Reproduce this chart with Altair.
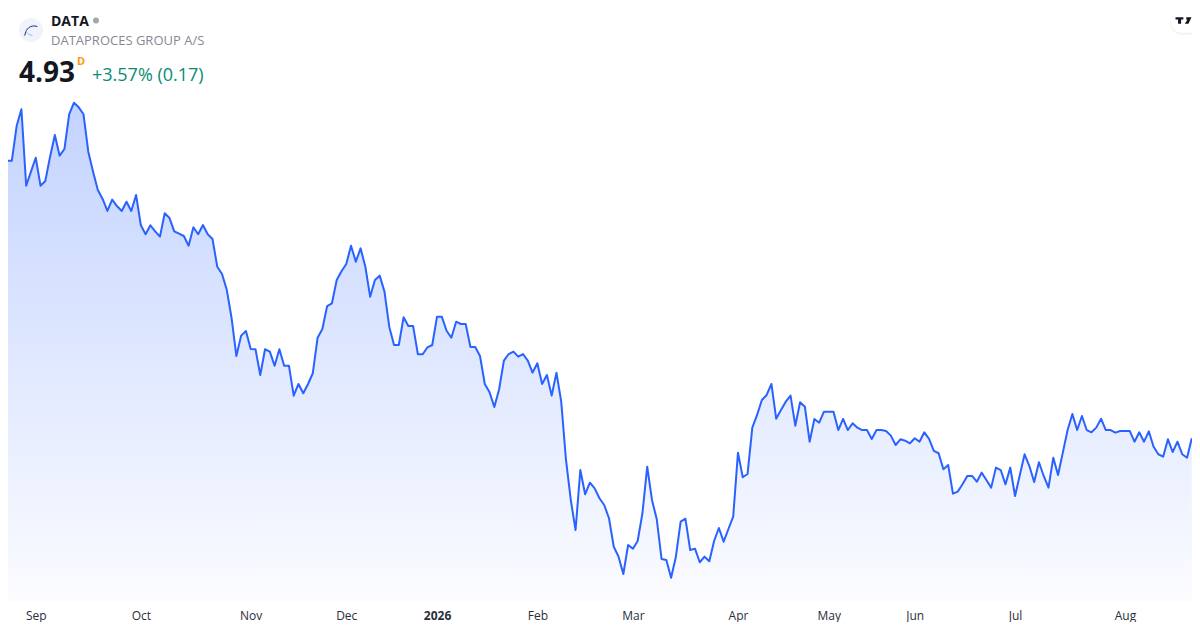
import json
import altair as alt
import pandas as pd

prices = [
6.884,7.359,7.359,7.662,7.809,7.140,7.263,7.385,7.140,7.181,
7.394,7.584,7.403,7.461,7.765,7.866,7.826,7.765,7.438,7.263,
7.102,7.024,6.919,7.018,6.962,6.919,7.000,6.919,7.059,6.794,
6.715,6.794,6.741,6.694,6.899,6.857,6.741,6.720,6.700,6.615,
6.776,6.715,6.796,6.715,6.674,6.431,6.367,6.227,5.980,5.650,
5.828,5.869,5.711,5.709,5.484,5.709,5.688,5.565,5.709,5.565,
5.565,5.303,5.405,5.324,5.405,5.499,5.810,5.886,6.087,6.111,
6.315,6.391,6.455,6.615,6.475,6.592,6.431,6.169,6.315,6.353,
6.213,5.906,5.746,5.746,5.989,5.912,5.912,5.665,5.665,5.726,
5.746,5.994,5.994,5.871,5.810,5.950,5.930,5.930,5.729,5.729,
5.650,5.405,5.332,5.204,5.359,5.609,5.667,5.688,5.644,5.667,
5.609,5.504,5.586,5.405,5.484,5.303,5.504,5.250,4.740,4.390,
4.127,4.652,4.440,4.541,4.492,4.405,4.346,4.230,3.981,3.894,
3.742,3.996,3.964,4.031,4.274,4.681,4.390,4.221,3.874,3.865,
3.710,3.894,4.200,4.226,3.952,3.964,3.845,3.894,3.854,4.031,
4.145,4.025,4.136,4.244,4.804,4.589,4.617,5.023,5.134,5.265,
5.309,5.405,5.101,5.177,5.250,5.303,5.040,5.245,5.206,4.900,
5.099,5.066,5.163,5.163,5.163,5.002,5.099,5.002,5.061,5.023,
5.002,5.002,4.924,5.002,5.002,4.994,4.953,4.871,4.921,4.909,
4.886,4.930,4.900,4.982,4.924,4.819,4.799,4.659,4.696,4.445,
4.463,4.527,4.600,4.600,4.550,4.629,4.565,4.498,4.673,4.652,
4.527,4.673,4.425,4.609,4.790,4.687,4.547,4.720,4.600,4.498,
4.760,4.609,4.804,5.002,5.142,5.002,5.125,5.002,4.982,5.023,
5.101,5.002,5.002,4.979,4.994,4.994,4.994,4.900,4.982,4.900,
4.991,4.856,4.790,4.769,4.921,4.810,4.900,4.790,4.760,4.930,
]
tick_positions = [7, 29, 52, 72, 91, 112, 132, 154, 173, 191, 212, 235]
tick_labels = ["Sep", "Oct", "Nov", "Dec", "2026", "Feb", "Mar", "Apr", "May", "Jun", "Jul", "Aug"]
symbol = "DATA"
company = "DATAPROCES GROUP A/S"
last_price = "4.93"
interval = "D"
change = "+3.57% (0.17)"

FONT = "Open Sans"
BLUE = "#2962FF"
LOW, HIGH = 3.506, 8.695

df = pd.DataFrame({"day": list(range(len(prices))), "price": prices})
label_map = json.dumps({str(p): l for p, l in zip(tick_positions, tick_labels)})

x = alt.X(
    "day:Q",
    scale=alt.Scale(domain=[1.193, 249.04], nice=False, zero=False),
    axis=alt.Axis(
        values=tick_positions,
        labelExpr=f"{label_map}[datum.value]",
        title=None, domain=False, ticks=False, grid=False,
        labelFont=FONT, labelFontSize=12, labelPadding=9, labelColor="#2a2e39",
        labelFontWeight=alt.condition("datum.value == 91", alt.value("bold"), alt.value("normal")),
        labelOverlap=False, labelFlush=False,
    ),
)
y = alt.Y("price:Q", scale=alt.Scale(domain=[LOW, HIGH], nice=False, zero=False), axis=None)

area = alt.Chart(df).mark_area(
    line=False,
    color=alt.Gradient(
        gradient="linear", x1=1, x2=1, y1=0, y2=1,
        stops=[
            alt.GradientStop(color="rgba(41,98,255,0.28)", offset=0),
            alt.GradientStop(color="rgba(41,98,255,0.02)", offset=1),
        ],
    ),
).encode(x=x, y=y, y2=alt.Y2(datum=LOW))
line = alt.Chart(df).mark_line(color=BLUE, strokeWidth=2, strokeJoin="round").encode(x=x, y=y)


def label(text, px, py, size, color, weight="normal"):
    return alt.Chart(pd.DataFrame({"t": [text]})).mark_text(
        align="left", baseline="alphabetic", font=FONT, fontSize=size, color=color, fontWeight=weight
    ).encode(x=alt.value(px), y=alt.value(py), text="t:N")


def dot(px, py, size, color, shape="circle", **kw):
    return alt.Chart(pd.DataFrame({"k": [0]})).mark_point(
        shape=shape, size=size, filled=kw.pop("filled", True), color=color, opacity=1, **kw
    ).encode(x=alt.value(px), y=alt.value(py))


def box(x1, x2, y1, y2, **kw):
    return alt.Chart(pd.DataFrame({"k": [0]})).mark_rect(**kw).encode(
        x=alt.value(x1), x2=alt.value(x2), y=alt.value(y1), y2=alt.value(y2)
    )


pill_shadow = box(1162, 1200, 3, 27, fill="#000000", fillOpacity=0.04, cornerRadius=12)
pill = box(1163, 1200, 2, 24.5, fill="#ffffff", cornerRadius=11)
tv = dot(1175.5, 12.5, 256, "#131722",
         shape="M-1 -0.42H-0.02V-0.12H-0.3V0.42H-0.68V-0.12H-1ZM0.35 -0.42H1L0.62 0.42H0.16L0.48 -0.1H0.35Z")
logo_bg = dot(23, 22, 576, "#f0f3fa")
logo_a = dot(23, 22, 196, "#1e2a78", filled=False, strokeWidth=1,
             shape="M-0.9 0.8C-0.7 -0.2 -0.1 -0.8 0.9 -0.5")
logo_b = dot(23, 22, 196, "#90bff9", filled=False, strokeWidth=1,
             shape="M-0.5 -0.3C-1 0.1 -0.6 0.6 0.2 0.8")

chart = alt.layer(
    area, line, pill_shadow, pill, tv, logo_bg, logo_a, logo_b,
    label(symbol, 43, 18, 14, "#131722", "bold"),
    dot(88, 12.5, 36, "#a3a6af"),
    label(company, 43, 37, 13, "#868993"),
    label(last_price, 11, 74, 28, "#131722", "bold"),
    label(interval, 69, 57, 11, "#FF9800", "bold"),
    label(change, 84, 73, 18, "#0a8c73"),
).properties(
    width=1184, height=593,
    autosize=alt.AutoSizeParams(type="none"),
    padding={"left": 0, "top": 0, "right": 0, "bottom": 21},
    background="#ffffff",
).configure_view(stroke=None)

chart.save("out.html", embed_options={"renderer": "svg", "actions": False})
